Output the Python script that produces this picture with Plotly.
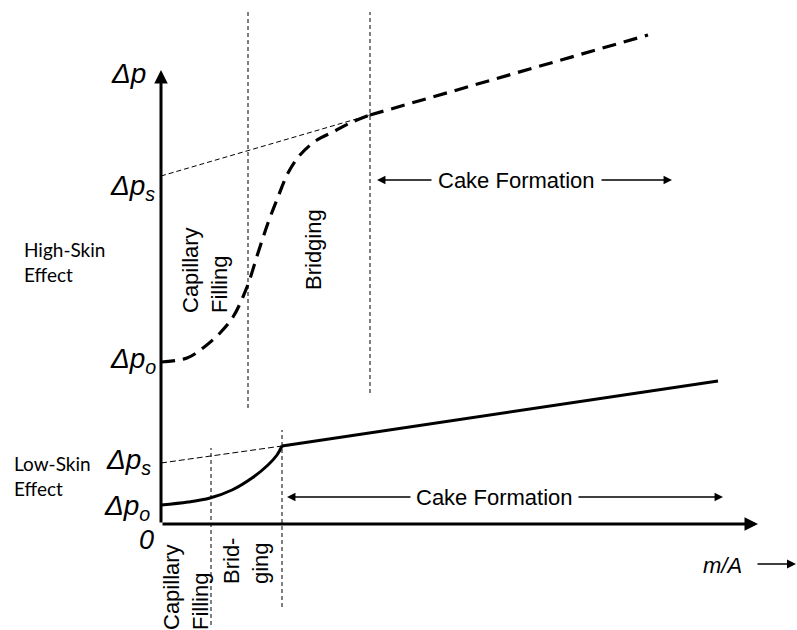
import plotly.graph_objects as go

# Conceptual diagram units: x = m/A, y = Δp (origin at the axis corner)
# High-skin-effect curve (dashed)
hi_curve_x = [0, 2.6, 4.2, 5.9, 7.2, 8.6, 9.7, 10.7, 11.7, 12.7, 13.9, 15.6, 17.2, 18.9, 20.9]
hi_curve_y = [16.2, 16.6, 17.6, 19.1, 20.7, 23.7, 27.1, 30.1, 32.7, 35.1, 36.9, 38.4, 39.2, 40.1, 40.9]
hi_cake_x = [20.9, 48.7]
hi_cake_y = [40.9, 48.9]
hi_dps = 34.8
hi_dpo = 16.2
hi_sep_x = [8.7, 20.9]
hi_sep_top = [51.4, 51.2]
hi_sep_bottom = [11.6, 13.1]

# Low-skin-effect curve (solid)
lo_curve_x = [0, 2.7, 4.9, 7.1, 9.1, 10.7, 11.6, 12.1]
lo_curve_y = [1.9, 2.2, 2.6, 3.4, 4.6, 5.9, 6.9, 7.8]
lo_cake_x = [12.1, 55.7]
lo_cake_y = [7.8, 14.3]
lo_dps = 6.1
lo_dpo = 1.9
lo_sep_x = [5.0, 12.1]
lo_sep_top = [7.6, 9.4]
lo_sep_bottom = [-10.1, -8.3]

x_axis_end = 59.7
y_axis_end = 45.4

SANS = "Liberation Sans, Arial, sans-serif"
CAL = "Lato, Open Sans, sans-serif"

fig = go.Figure()


def line(x, y, width, dash="solid", shape="linear"):
    fig.add_trace(go.Scatter(x=x, y=y, mode="lines",
                             line=dict(color="black", width=width, dash=dash, shape=shape),
                             hoverinfo="skip", showlegend=False))


def arrow(x0, y0, x1, y1, width, size=1.0, head=2):
    fig.add_annotation(x=x1, y=y1, ax=x0, ay=y0, xref="x", yref="y", axref="x", ayref="y",
                       text="", showarrow=True, arrowhead=head, arrowsize=size,
                       arrowwidth=width, arrowcolor="black", standoff=0, startstandoff=0)


def label(x, y, text, size, font=SANS, xanchor="center", yanchor="middle", angle=0, align="center"):
    fig.add_annotation(x=x, y=y, xref="x", yref="y", text=text, showarrow=False,
                       font=dict(family=font, size=size, color="black"),
                       xanchor=xanchor, yanchor=yanchor, textangle=angle, align=align)


# separators
for sx, t, b in zip(hi_sep_x, hi_sep_top, hi_sep_bottom):
    line([sx, sx], [b, t], 1, dash="4px,3px")
for sx, t, b in zip(lo_sep_x, lo_sep_top, lo_sep_bottom):
    line([sx, sx], [b, t], 1, dash="4px,3px")

# tangent extrapolations
line([0, hi_cake_x[0]], [hi_dps, hi_cake_y[0]], 1, dash="5px,3px")
line([0, lo_cake_x[0]], [lo_dps, lo_cake_y[0]], 1, dash="6px,3px")

# curves
line(hi_curve_x, hi_curve_y, 3.2, dash="14px,8px", shape="spline")
line(hi_cake_x, hi_cake_y, 3.2, dash="14px,8px")
line(lo_curve_x, lo_curve_y, 3, shape="spline")
line(lo_cake_x, lo_cake_y, 3)

# axes
arrow(0, 0, 0, y_axis_end, 3, 0.9)
arrow(0, 0, x_axis_end, 0, 3, 0.9)

# axis labels
label(-3.3, 45.1, "<i>Δp</i>", 28)
label(-0.4, hi_dps - 1.1, "<i>Δp<sub>s</sub></i>", 28, xanchor="right")
label(-0.3, hi_dpo + 0.2, "<i>Δp<sub>o</sub></i>", 28, xanchor="right")
label(-0.8, lo_dps + 0.2, "<i>Δp<sub>s</sub></i>", 28, xanchor="right")
label(-0.9, lo_dpo - 0.2, "<i>Δp<sub>o</sub></i>", 28, xanchor="right")
label(-1.5, -1.6, "<i>0</i>", 27)
label(56.1, -4.1, "<i>m/A</i>", 22)
arrow(59.5, -4.0, 63.5, -4.0, 1.5, 1.2)

# effect labels
label(-13.9, 26.2, "High-Skin<br>Effect", 19, font=CAL, xanchor="left", align="left")
label(-14.9, 4.8, "Low-Skin<br>Effect", 19, font=CAL, xanchor="left", align="left")

# regime labels (rotated)
label(4.4, 25.4, "Capillary<br>Filling", 22, angle=-90, align="left")
label(15.2, 27.4, "Bridging", 22, angle=-90)
label(2.5, -6.3, "Capillary<br>Filling", 22, angle=-90, align="left")
label(8.5, -3.7, "Brid-<br>ging", 22, angle=-90, align="left")

# cake formation (high)
label(35.5, 34.4, "Cake Formation", 22)
arrow(27.2, 34.4, 21.6, 34.4, 1.3, 1.3)
arrow(43.9, 34.4, 51.1, 34.4, 1.3, 1.3)
# cake formation (low)
label(33.35, 2.7, "Cake Formation", 22)
arrow(25.1, 2.7, 12.6, 2.7, 1.3, 1.3)
arrow(41.6, 2.7, 56.2, 2.7, 1.3, 1.3)

fig.update_layout(
    width=797, height=630,
    margin=dict(l=0, r=0, t=0, b=0),
    plot_bgcolor="white", paper_bgcolor="white",
    xaxis=dict(range=[-16.1, 63.6], visible=False, fixedrange=True),
    yaxis=dict(range=[-10.6, 52.4], visible=False, fixedrange=True),
    showlegend=False,
)

fig.write_html("out.html", config={"displayModeBar": False})
